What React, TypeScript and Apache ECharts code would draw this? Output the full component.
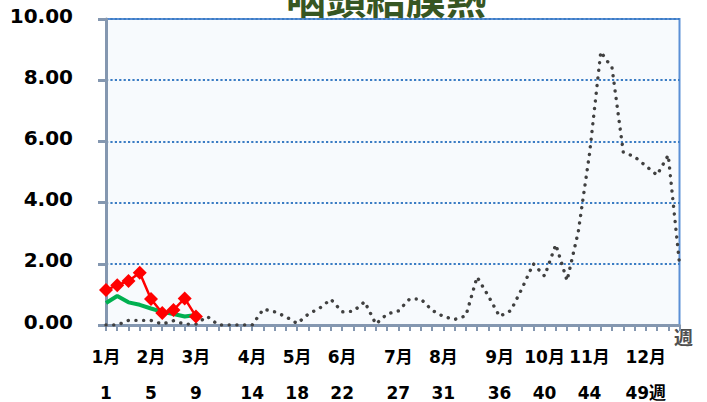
import React, { useEffect, useRef } from "react";
import * as echarts from "echarts";

const weeks = [
  "1", "2", "3", "4", "5", "6", "7", "8", "9", "10", "11", "12", "13",
  "14", "15", "16", "17", "18", "19", "20", "21", "22", "23", "24", "25", "26",
  "27", "28", "29", "30", "31", "32", "33", "34", "35", "36", "37", "38", "39",
  "40", "41", "42", "43", "44", "45", "46", "47", "48", "49", "50", "51", "52",
];

const labelWeeks = ["1", "5", "9", "14", "18", "22", "27", "31", "36", "40", "44", "49"];
const monthLabels = ["1月", "2月", "3月", "4月", "5月", "6月", "7月", "8月", "9月", "10月", "11月", "12月"];
const weekLabels = ["1", "5", "9", "14", "18", "22", "27", "31", "36", "40", "44", "49週"];

const lastYear = [
  0.0, 0.0, 0.15, 0.15, 0.15, 0.03, 0.14, 0.03, 0.03, 0.28, 0.0, 0.0, 0.0,
  0.0, 0.52, 0.43, 0.27, 0.05, 0.36, 0.55, 0.84, 0.43, 0.45, 0.76, 0.03, 0.36,
  0.46, 0.85, 0.85, 0.48, 0.28, 0.18, 0.3, 1.57, 0.95, 0.28, 0.47, 1.2, 2.0,
  1.6, 2.63, 1.45, 3.05, 5.6, 8.93, 8.4, 5.65, 5.5, 5.2, 4.9, 5.55, 2.0,
];

const fiveYearAvg = [0.72, 0.95, 0.74, 0.66, 0.54, 0.43, 0.36, 0.28, 0.33];
const thisYear = [1.14, 1.3, 1.44, 1.71, 0.85, 0.39, 0.49, 0.87, 0.28];

const yTicks = [0, 2, 4, 6, 8, 10];

const AXIS_GREY = "#8497b0";
const LABEL_FONT = "'DejaVu Sans', 'Noto Sans CJK JP', sans-serif";

export default function App() {
  const ref = useRef<HTMLDivElement>(null);

  useEffect(() => {
    if (!ref.current) return;
    const chart = echarts.init(ref.current, undefined, { renderer: "svg" });
    chart.setOption({
      animation: false,
      backgroundColor: "#ffffff",
      grid: {
        left: 106,
        right: 27.5,
        top: 19,
        bottom: 76,
        show: true,
        backgroundColor: "#f7fafd",
        borderColor: "#5b8fd6",
        borderWidth: 2,
      },
      graphic: [
        {
          type: "text",
          x: 386,
          y: -23,
          style: {
            text: "咽頭結膜熱",
            fill: "#375623",
            font: "bold 40px 'Noto Sans CJK JP'",
            textAlign: "center",
            textVerticalAlign: "top",
          },
        },
        {
          type: "text",
          x: 674,
          y: 327,
          style: {
            text: "週",
            fill: "#505050",
            font: "bold 19px 'Noto Sans CJK JP'",
            textAlign: "left",
            textVerticalAlign: "top",
          },
        },
      ],
      xAxis: {
        type: "category",
        data: weeks,
        boundaryGap: false,
        axisLine: { show: true, lineStyle: { color: AXIS_GREY, width: 3 } },
        axisTick: {
          show: true,
          interval: 0,
          length: 6,
          lineStyle: { color: AXIS_GREY, width: 2 },
        },
        splitLine: { show: false },
        axisLabel: {
          interval: 0,
          margin: 23,
          fontSize: 17,
          fontWeight: "bold",
          color: "#000000",
          lineHeight: 18,
          fontFamily: LABEL_FONT,
          hideOverlap: false,
          formatter: (value: string) => {
            const i = labelWeeks.indexOf(value);
            if (i < 0) return "";
            return monthLabels[i] + "\n\n" + weekLabels[i];
          },
        },
      },
      yAxis: {
        type: "value",
        min: yTicks[0],
        max: yTicks[yTicks.length - 1],
        interval: 2,
        axisLine: { show: true, lineStyle: { color: AXIS_GREY, width: 3 } },
        axisTick: { show: true, length: 8, lineStyle: { color: AXIS_GREY, width: 3 } },
        splitLine: {
          show: true,
          lineStyle: { color: "#3a7cc4", width: 2, type: [2.2, 2.2] },
        },
        axisLabel: {
          margin: 33,
          fontSize: 20,
          fontWeight: "bold",
          color: "#000000",
          fontFamily: LABEL_FONT,
          formatter: (v: number) => v.toFixed(2),
          verticalAlign: "bottom",
          lineHeight: 7,
        },
      },
      series: [
        {
          name: "前年",
          type: "line",
          data: lastYear,
          showSymbol: false,
          symbol: "none",
          lineStyle: { color: "#404040", width: 3.4, type: [0.1, 7.6], cap: "round" },
          z: 2,
        },
        {
          name: "過去5年平均",
          type: "line",
          data: fiveYearAvg,
          symbol: "none",
          lineStyle: { color: "#00b050", width: 4 },
          z: 3,
        },
        {
          name: "今年",
          type: "line",
          data: thisYear,
          symbol: "diamond",
          symbolSize: 14,
          itemStyle: { color: "#ff0000" },
          lineStyle: { color: "#ff0000", width: 2.5 },
          z: 4,
        },
      ],
    });
    return () => chart.dispose();
  }, []);

  return (
    <div
      ref={ref}
      style={{ position: "fixed", left: 0, top: 0, width: 707, height: 402 }}
    />
  );
}
